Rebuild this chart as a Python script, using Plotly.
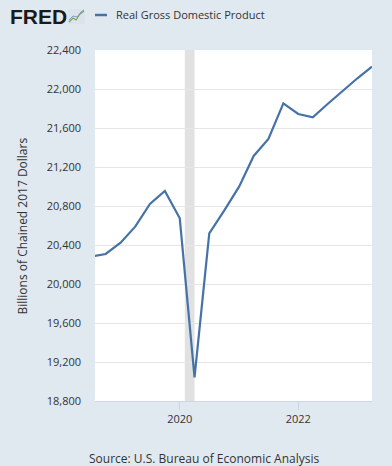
import plotly.graph_objects as go

dates = ["2018-07-01", "2018-10-01", "2019-01-01", "2019-04-01", "2019-07-01", "2019-10-01",
         "2020-01-01", "2020-04-01", "2020-07-01", "2020-10-01", "2021-01-01", "2021-04-01",
         "2021-07-01", "2021-10-01", "2022-01-01", "2022-04-01", "2022-07-01", "2022-10-01",
         "2023-01-01", "2023-04-01"]
gdp = [20282, 20308, 20424, 20588, 20821, 20954,
       20674, 19043, 20520, 20752, 20998, 21313,
       21487, 21853, 21744, 21710, 21846, 21983,
       22110, 22229]
y_ticks = [18800, 19200, 19600, 20000, 20400, 20800, 21200, 21600, 22000, 22400]
x_ticks = ["2020-01-01", "2022-01-01"]
x_tick_labels = ["2020", "2022"]
recession = ("2020-02-01", "2020-04-01")
series_name = "Real Gross Domestic Product"
y_title = "Billions of Chained 2017 Dollars"
source = "Source: U.S. Bureau of Economic Analysis"

W, H = 392, 466
L, R, T, B = 95, 20, 50, 65
PW, PH = W - L - R, H - T - B

def px(x):
    return (x - L) / PW

def py(y):
    return (H - B - y) / PH

FONT = "Open Sans"
LINE = "#4572a7"

fig = go.Figure()
fig.add_trace(go.Scatter(x=dates, y=gdp, mode="lines", name=series_name,
                         line=dict(color=LINE, width=2.2), showlegend=False,
                         cliponaxis=True))

fig.add_vrect(x0=recession[0], x1=recession[1], fillcolor="#e1e1e1", line_width=0,
              layer="below", opacity=1)

shapes_extra = [
    # legend line
    dict(type="line", xref="paper", yref="paper", x0=px(95), x1=px(107), y0=py(15), y1=py(15),
         line=dict(color=LINE, width=2.5)),
    # FRED icon box
    dict(type="rect", xref="paper", yref="paper", x0=px(68), x1=px(85), y0=py(24), y1=py(9),
         fillcolor="#dde3ea", line=dict(width=0)),
    dict(type="path", xref="paper", yref="paper",
         path=f"M {px(69)},{py(22)} L {px(73)},{py(18)} L {px(76)},{py(20)} L {px(80)},{py(14)} L {px(84)},{py(11)}",
         line=dict(color="#7aa35c", width=1.2)),
    dict(type="path", xref="paper", yref="paper",
         path=f"M {px(69)},{py(20)} L {px(73)},{py(16)} L {px(77)},{py(17)} L {px(81)},{py(12)} L {px(84)},{py(10)}",
         line=dict(color="#7f9fc4", width=1.0)),
]
for s in shapes_extra:
    fig.add_shape(**s)

annotations = [
    dict(text="<b>FRED</b>", x=px(8), y=py(16), xref="paper", yref="paper", xanchor="left",
         yanchor="middle", showarrow=False,
         font=dict(family="Liberation Sans", size=21, color="#1a1a1a")),
    dict(text=series_name, x=px(114), y=py(15), xref="paper", yref="paper", xanchor="left",
         yanchor="middle", showarrow=False, font=dict(family=FONT, size=11, color="#333333")),
    dict(text=y_title, x=px(22), y=0.5, xref="paper", yref="paper", xanchor="center",
         yanchor="middle", textangle=-90, showarrow=False,
         font=dict(family=FONT, size=12, color="#333333")),
    dict(text=source, x=px(204), y=py(458), xref="paper", yref="paper", xanchor="center",
         yanchor="middle", showarrow=False, font=dict(family=FONT, size=12, color="#333333")),
]

fig.update_layout(
    width=W, height=H,
    margin=dict(l=L, r=R, t=T, b=B),
    paper_bgcolor="#e1e9f0",
    plot_bgcolor="#ffffff",
    annotations=annotations,
    xaxis=dict(type="date", range=["2018-07-27", "2023-04-01"], tickvals=x_ticks,
               ticktext=x_tick_labels, showgrid=False, zeroline=False,
               ticks="outside", ticklen=8, tickcolor="#ccd6eb", tickwidth=1,
               showline=True, linecolor="#ccd6eb", linewidth=1,
               tickfont=dict(family=FONT, size=11, color="#333333")),
    yaxis=dict(range=[18800, 22400], tickvals=y_ticks, tickformat=",d",
               showgrid=True, gridcolor="#e6e6e6", gridwidth=1, zeroline=False,
               showline=False, ticks="", ticklabelstandoff=13,
               tickfont=dict(family=FONT, size=11, color="#333333")),
)

fig.write_html("out.html", config={"displayModeBar": False},
               post_script="document.body.style.margin='0';document.body.style.background='#e1e9f0';")
